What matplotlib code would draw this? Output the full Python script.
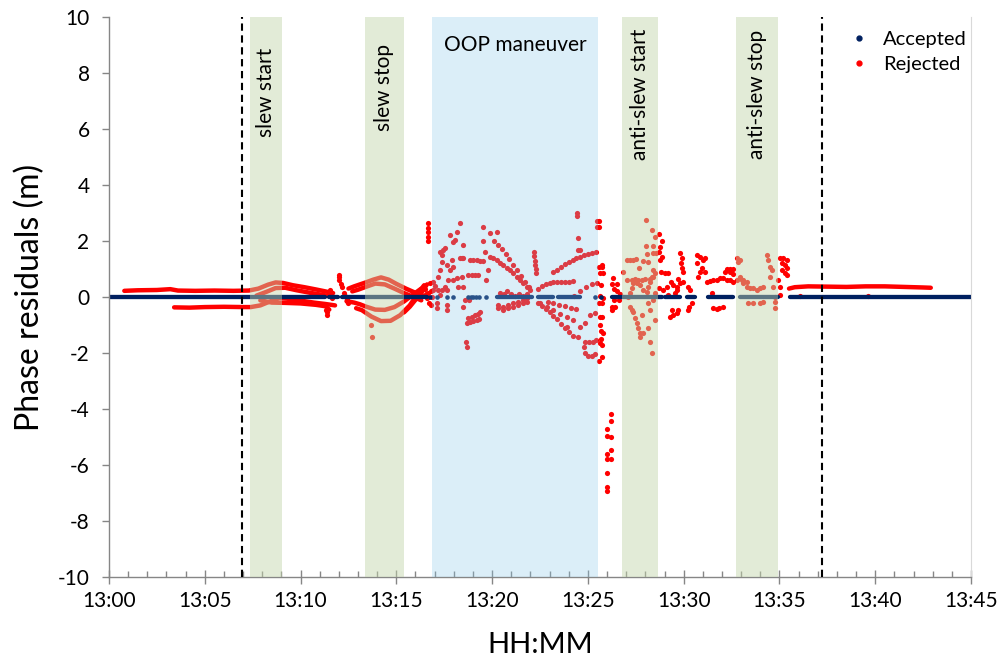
import matplotlib.pyplot as plt
from matplotlib.lines import Line2D
from matplotlib.ticker import MultipleLocator

plt.rcParams['font.family'] = ['Lato', 'DejaVu Sans']
plt.rcParams['axes.unicode_minus'] = False

# time axis is minutes after 13:00
xtick_pos = [0, 5, 10, 15, 20, 25, 30, 35, 40, 45]
xtick_labels = ['13:00', '13:05', '13:10', '13:15', '13:20', '13:25', '13:30', '13:35', '13:40', '13:45']
ytick_pos = [-10, -8, -6, -4, -2, 0, 2, 4, 6, 8, 10]

# events (minutes)
event_names = ['slew start', 'slew stop', 'anti-slew start', 'anti-slew stop']
event_start = [7.36, 13.36, 26.78, 32.73]
event_end = [9.03, 15.40, 28.66, 34.92]
maneuver_start, maneuver_end = 16.86, 25.53
window_lines = [6.94, 37.22]

# accepted residuals (all ~0 m): dense runs and isolated epochs
acc_run_start = [0.0, 11.48, 12.16, 20.25, 22.40, 23.44, 26.26, 29.02, 30.17, 31.27, 32.94, 35.55]
acc_run_end = [11.28, 11.95, 16.60, 22.08, 23.18, 24.59, 28.87, 29.81, 30.59, 32.57, 34.92, 45.0]
acc_dot_t = [16.76, 17.12, 17.64, 17.96, 18.74, 18.88, 19.02, 19.16, 19.30, 19.68, 25.37, 25.68]

# rejected residuals, continuous tracks (t, m)
trk_pre_hi = [(0.8, 0.22), (1.5, 0.24), (2.5, 0.25), (3.2, 0.28), (3.6, 0.23), (4.5, 0.22),
              (5.5, 0.23), (6.5, 0.22), (7.3, 0.23), (7.8, 0.3), (8.3, 0.44), (8.7, 0.52),
              (9.1, 0.5), (9.6, 0.42), (10.2, 0.35), (10.8, 0.27), (11.3, 0.2), (11.7, 0.14)]
trk_pre_lo = [(3.4, -0.37), (4.2, -0.38), (5.0, -0.36), (6.0, -0.35), (7.0, -0.36), (7.4, -0.36),
              (7.9, -0.3), (8.4, -0.16), (8.9, -0.04), (9.3, -0.06), (10.0, -0.13), (10.7, -0.2),
              (11.3, -0.25), (11.8, -0.3)]
trk_s2 = [(7.7, 0.05), (8.2, 0.18), (8.7, 0.32), (9.2, 0.33), (9.8, 0.24), (10.5, 0.15),
          (11.2, 0.07), (11.6, 0.02)]
trk_s4 = [(7.9, -0.12), (8.5, -0.2), (9.2, -0.21), (10.0, -0.23), (10.8, -0.28), (11.3, -0.33),
          (11.5, -0.45)]
trk_m1 = [(12.5, 0.3), (12.8, 0.38), (13.1, 0.45), (13.4, 0.52), (13.8, 0.62), (14.2, 0.7),
          (14.6, 0.62), (15.0, 0.47), (15.5, 0.3), (16.0, 0.15), (16.4, 0.05)]
trk_m2 = [(12.7, 0.2), (13.0, 0.26), (13.4, 0.36), (13.9, 0.48), (14.4, 0.45), (14.9, 0.3),
          (15.4, 0.14), (15.9, 0.0), (16.3, -0.12)]
trk_m3 = [(12.4, -0.15), (12.8, -0.2), (13.1, -0.26), (13.4, -0.34), (13.9, -0.45), (14.4, -0.46),
          (14.9, -0.36), (15.4, -0.16), (15.9, 0.1), (16.3, 0.3)]
trk_m4 = [(12.9, -0.4), (13.2, -0.47), (13.7, -0.7), (14.2, -0.86), (14.7, -0.85), (15.2, -0.65),
          (15.7, -0.3), (16.1, 0.1), (16.45, 0.42)]
trk_m5 = [(15.4, -0.55), (15.7, -0.35), (16.0, -0.1), (16.3, 0.15), (16.6, 0.45)]
trk_post = [(35.5, 0.3), (35.8, 0.35), (36.5, 0.38), (37.5, 0.37), (38.5, 0.36), (39.5, 0.38),
            (40.5, 0.38), (41.5, 0.36), (42.5, 0.34), (42.9, 0.33)]
rej_tracks = [trk_pre_hi, trk_pre_lo, trk_s2, trk_s4, trk_m1, trk_m2, trk_m3, trk_m4, trk_m5, trk_post]

# rejected residuals, individual epochs before the maneuver
rej_pre = [(11.35, -0.45), (11.38, -0.55), (11.4, -0.66), (11.55, 0.25), (11.57, 0.15), (11.6, 0.05),
           (11.62, -0.04), (12.0, 0.79), (12.0, 0.7), (12.02, 0.6), (12.1, 0.45), (12.15, 0.35),
           (12.25, 0.15), (12.3, 0.05), (12.4, -0.08), (12.45, -0.15), (12.5, -0.22), (13.7, -1.0),
           (13.75, -1.42), (16.63, 2.64), (16.63, 2.46), (16.63, 2.32), (16.63, 2.14), (16.63, 2.0),
           (16.5, 0.3), (16.55, 0.1), (16.6, -0.05), (16.65, 0.15), (16.7, -0.2), (16.75, 0.5),
           (16.8, 0.2), (16.8, -0.3), (16.85, 0.0)]

# rejected residuals during the OOP maneuver
rej_oop = [(16.93, 0.55), (16.93, 0.25), (17.02, 0.4), (17.19, 0.73), (17.28, 0.96), (17.37, 1.26),
           (17.28, 1.62), (17.37, 1.5), (17.45, 1.68), (17.54, 1.74), (17.8, 2.21), (17.98, 1.98),
           (18.06, 2.04), (18.15, 2.33), (18.32, 2.63), (18.5, 1.86), (18.32, 1.38), (18.41, 1.38),
           (18.5, 1.38), (17.89, 1.32), (17.8, 0.96), (17.98, 1.08), (17.71, 0.61), (17.98, 0.61),
           (18.15, 0.67), (18.24, 0.37), (18.5, 0.37), (18.41, 0.73), (17.63, 1.14), (17.63, 0.25),
           (17.54, 0.37), (17.37, 0.25), (17.28, 0.07), (17.19, 0.25), (17.11, -0.23), (17.11, -0.4),
           (17.63, -0.29), (17.63, -0.46), (18.5, -0.35), (18.6, -0.1), (18.8, -0.1),
           (18.67, -0.94), (18.76, -0.75), (18.93, -0.71), (19.1, -0.66), (19.27, -0.6), (19.37, -0.55),
           (18.84, -0.9), (19.0, -0.86), (19.19, -0.82), (19.33, -0.78), (18.62, -1.6), (18.67, -1.8),
           (18.84, 1.32), (19.02, 1.32), (19.19, 1.31), (19.37, 1.3), (19.54, 1.28),
           (18.76, 0.8), (18.93, 0.8), (19.1, 0.79), (19.27, 0.78),
           (19.54, 2.51), (19.54, 2.0), (19.63, 1.62), (19.8, 0.96), (19.7, 0.6), (19.89, 2.27), (20.24, 2.33),
           (19.9, 1.44), (20.07, 1.38), (20.24, 1.32), (20.41, 1.2), (20.59, 1.14), (20.76, 1.02),
           (20.93, 0.96), (21.11, 0.84), (21.28, 0.73), (21.46, 0.61), (21.63, 0.49), (21.8, 0.37),
           (21.98, 0.25), (20.1, 2.0), (20.3, 1.85), (20.5, 1.7), (20.7, 1.55), (20.9, 1.35),
           (21.1, 1.15), (21.3, 0.95), (21.5, 0.75), (21.7, 0.55), (21.9, 0.35),
           (20.33, -0.29), (20.59, -0.35), (20.85, -0.29), (21.11, -0.23), (21.37, -0.17), (21.63, -0.11),
           (21.8, -0.05), (20.33, -0.41), (20.59, -0.47), (20.85, -0.41), (21.11, -0.35), (21.37, -0.29),
           (21.63, -0.23), (21.8, -0.17), (20.4, 0.15), (20.6, 0.1), (20.8, 0.2), (21.0, 0.1),
           (21.2, 0.05), (21.4, 0.12), (21.6, 0.05), (21.8, 0.1),
           (22.2, 1.6), (22.2, 1.45), (22.25, 1.3), (22.25, 1.15), (22.3, 1.0), (22.3, 0.85),
           (22.4, 0.3), (22.6, 0.38), (22.8, 0.45), (23.0, 0.5), (23.2, 0.54), (23.4, 0.54), (23.6, 0.54),
           (23.8, 0.54), (24.0, 0.54), (24.2, 0.56),
           (23.2, 0.9), (23.4, 0.98), (23.6, 1.08), (23.8, 1.17), (24.0, 1.26), (24.2, 1.32), (24.4, 1.38),
           (24.6, 1.43), (24.8, 1.5), (25.0, 1.55), (25.2, 1.58), (25.4, 1.6),
           (24.3, 0.05), (24.6, 0.2), (24.9, 0.36), (25.2, 0.45), (25.45, 0.5),
           (24.45, 3.0), (24.45, 2.9), (24.5, 2.1), (24.5, 1.68), (24.6, 1.68), (25.48, 2.72), (25.5, 2.5),
           (22.4, -0.22), (22.6, -0.33), (22.8, -0.42), (23.0, -0.55), (23.2, -0.67), (23.4, -0.8),
           (23.6, -0.95), (23.8, -1.1), (24.0, -1.25), (24.2, -1.4),
           (22.9, -0.17), (23.2, -0.22), (23.5, -0.28), (23.8, -0.33), (24.1, -0.38), (24.4, -0.42),
           (22.5, -0.23), (22.85, -0.35), (23.2, -0.47), (23.55, -0.59), (23.9, -0.7), (24.2, -0.82),
           (23.9, -1.06), (24.5, -1.42), (24.8, -1.78),
           (24.85, -2.0), (25.0, -2.1), (25.2, -2.1), (25.35, -2.05), (24.85, -1.6), (25.05, -1.6),
           (25.25, -1.6), (25.4, -1.55), (24.6, -1.06), (24.85, -0.94), (25.1, -0.64), (25.35, -0.58)]

# rejected residuals after the maneuver
rej_post = [(25.58, 2.7), (25.58, 2.5), (25.6, 1.07), (25.75, 1.07), (25.65, 0.85), (25.8, 0.85),
            (25.7, 0.43), (25.65, 0.05), (25.8, -0.05), (25.6, -0.2), (25.75, -0.2), (25.62, -0.7),
            (25.75, -0.72), (25.8, -1.3), (25.62, -1.0), (25.7, -1.2), (25.62, -1.65), (25.72, -1.7),
            (25.7, -1.5), (25.58, -2.3), (25.72, 1.14), (25.75, -2.13),
            (26.19, -4.19), (26.19, -4.43), (26.01, -4.72), (26.01, -4.96), (26.19, -4.99), (26.19, -5.46),
            (26.01, -5.61), (26.01, -5.78), (26.19, -5.79), (26.01, -6.27), (26.01, -6.77), (26.01, -6.93),
            (26.3, 0.68), (26.25, 0.45), (26.5, 0.45), (26.35, 0.27), (26.5, 0.2), (26.25, -0.36),
            (26.25, -0.46), (26.6, -0.1), (26.7, 0.1), (26.36, -0.12), (26.4, -0.35),
            (26.85, 0.9), (27.02, 1.32), (27.2, 1.32), (27.37, 1.32), (27.51, 1.35), (27.86, 1.29),
            (27.02, 0.6), (27.28, 0.6), (27.46, 0.66), (27.63, 0.6), (27.8, 0.6), (27.98, 0.66),
            (28.24, 0.66), (28.42, 0.73), (27.68, 1.02), (28.03, 2.75), (28.33, 2.39), (28.5, 2.15),
            (28.42, 1.82), (28.03, 1.82), (28.42, 1.58), (28.55, 1.58), (28.07, 1.54), (28.16, 1.26),
            (28.42, 0.96), (28.5, 0.85), (28.33, 0.73), (28.24, 0.55), (28.16, 0.37), (28.07, 0.19),
            (27.89, 0.25), (27.72, 0.43), (27.55, 0.49), (27.37, 0.49), (27.28, 0.31), (27.2, 0.13),
            (27.11, 0.0), (27.2, -0.35), (27.28, -0.46), (27.37, -0.52), (27.46, -0.76), (27.55, -0.94),
            (27.63, -1.12), (27.72, -1.3), (27.72, -1.42), (27.89, -1.3), (27.8, -0.64), (28.16, -0.23),
            (28.24, -0.46), (28.16, -1.12), (28.24, -1.6), (28.33, -2.01), (28.5, -0.82), (28.5, 0.13),
            (28.42, -0.11),
            (28.73, 2.25), (28.85, 2.01), (28.76, 1.77), (28.73, 1.62), (28.85, 1.44), (28.76, 1.32),
            (28.8, 0.9), (29.02, 0.85), (29.2, 0.87), (28.73, 0.31), (28.9, 0.25), (29.11, 0.35),
            (29.32, 0.55), (29.46, 0.43), (29.63, 0.37), (29.81, 0.49), (29.67, 0.25), (29.55, 0.13),
            (29.2, 0.07), (29.37, -0.46), (29.28, -0.7), (29.46, -0.64), (29.63, -0.58), (29.72, -0.46),
            (29.81, 1.56), (29.89, 1.38), (29.85, 1.2), (29.89, 1.02), (29.98, 0.9), (29.72, 0.66),
            (29.98, 0.55), (30.24, 0.37), (30.33, 0.25), (30.42, -0.23), (30.29, -0.35), (30.24, -0.46),
            (30.68, 1.5), (30.85, 1.44), (31.03, 1.32), (31.11, 1.38), (30.68, 1.2), (30.94, 1.02),
            (30.85, 0.9), (31.11, 0.9), (30.77, 0.73), (31.2, 0.55), (31.37, 0.58), (31.55, 0.6),
            (31.72, 0.61), (31.9, 0.67), (32.07, 0.67), (32.24, 0.61), (32.42, 0.61), (32.59, 0.55),
            (31.46, 0.13), (31.55, -0.38), (31.72, -0.44), (31.85, -0.4), (32.07, -0.35),
            (32.24, 1.0), (32.42, 1.0), (32.59, 1.0), (32.16, 0.89), (32.42, 0.89), (32.59, 0.83),
            (32.77, 1.38), (32.85, 1.26), (32.77, 0.61), (32.94, 0.73), (33.11, 0.61), (33.29, 0.37),
            (33.46, 0.31), (33.64, 0.31), (33.81, 0.25), (33.98, 0.31), (34.16, 0.37), (34.33, 1.5),
            (34.42, 1.32), (34.5, 1.08), (34.59, 0.96), (34.5, 0.73), (33.38, -0.23), (33.64, -0.23),
            (33.98, -0.23), (34.16, -0.17), (34.68, 0.37), (34.77, 0.01), (34.77, -0.17), (34.77, -0.41),
            (33.11, 0.49), (33.29, 0.55), (32.94, 1.32), (33.03, 0.61),
            (35.03, 1.38), (35.2, 1.38), (35.38, 1.32), (35.12, 1.2), (35.29, 1.14), (35.38, 1.02),
            (35.12, 0.96), (35.29, 0.85), (35.38, 0.79), (35.03, 0.37), (35.03, 0.07), (34.9, 0.6),
            (36.07, 0.04), (39.6, 0.03)]

NAVY = '#002060'
RED = '#ff0000'
AXIS = '#868686'

fig = plt.figure(figsize=(10.02, 6.65), dpi=100)
ax = fig.add_axes([109 / 1002, 1 - 577 / 665, 862 / 1002, 560 / 665])

for trk in rej_tracks:
    t, y = zip(*trk)
    ax.plot(t, y, color=RED, lw=3.2, solid_capstyle='round', solid_joinstyle='round', zorder=2)
for pts in (rej_pre, rej_oop, rej_post):
    t, y = zip(*pts)
    ax.scatter(t, y, s=14, color=RED, lw=0, zorder=2)

for s, e in zip(acc_run_start, acc_run_end):
    ax.plot([s, e], [0, 0], color=NAVY, lw=3.1, solid_capstyle='round', zorder=2.5)
ax.scatter(acc_dot_t, [0] * len(acc_dot_t), s=11, color=NAVY, lw=0, zorder=2.5)

# shaded periods sit on top of the points, semi transparent
for s, e in zip(event_start, event_end):
    ax.axvspan(s, e, color=(194 / 255, 213 / 255, 170 / 255), alpha=0.47, lw=0, zorder=3)
ax.axvspan(maneuver_start, maneuver_end, color=(136 / 255, 199 / 255, 232 / 255), alpha=0.30, lw=0, zorder=3)

for x in window_lines:
    ax.axvline(x, color='black', lw=1.5, ls=(0, (3.5, 2.2)), zorder=4)

text_top = [8.9, 9.05, 9.6, 9.55]
for s, e, name, top in zip(event_start, event_end, event_names, text_top):
    ax.text((s + e) / 2, top, name, rotation=90, ha='center', va='top', fontsize=15, zorder=5)
ax.text((maneuver_start + maneuver_end) / 2, 9.0, 'OOP maneuver', ha='center', va='center',
        fontsize=15, zorder=5)

ax.set_xlim(0, 45)
ax.set_ylim(-10, 10)
ax.set_xticks(xtick_pos)
ax.set_xticklabels(xtick_labels)
ax.xaxis.set_minor_locator(MultipleLocator(1))
ax.set_yticks(ytick_pos)
ax.tick_params(axis='x', which='major', direction='inout', length=10, width=1, color=AXIS,
               labelsize=15, pad=5)
ax.tick_params(axis='x', which='minor', direction='in', length=4, width=1, color=AXIS)
ax.tick_params(axis='y', which='major', direction='out', length=5, width=1, color=AXIS,
               labelsize=15, pad=9)

for side in ('left', 'bottom'):
    ax.spines[side].set_color(AXIS)
    ax.spines[side].set_linewidth(1.0)
ax.spines['right'].set_color('#d9d9d9')
ax.spines['top'].set_visible(False)

ax.set_xlabel('HH:MM', fontsize=21, labelpad=15)
ax.set_ylabel('Phase residuals (m)', fontsize=23, labelpad=9)

handles = [Line2D([], [], ls='none', marker='o', ms=3.5, mfc=NAVY, mec=NAVY),
           Line2D([], [], ls='none', marker='o', ms=3.5, mfc=RED, mec=RED)]
ax.legend(handles, ['Accepted', 'Rejected'], loc='upper left', bbox_to_anchor=(0.849, 0.99),
          frameon=False, fontsize=14.5, handlelength=1, handletextpad=0.7, labelspacing=0.4,
          borderaxespad=0)

fig.savefig('out.png', dpi=100)
